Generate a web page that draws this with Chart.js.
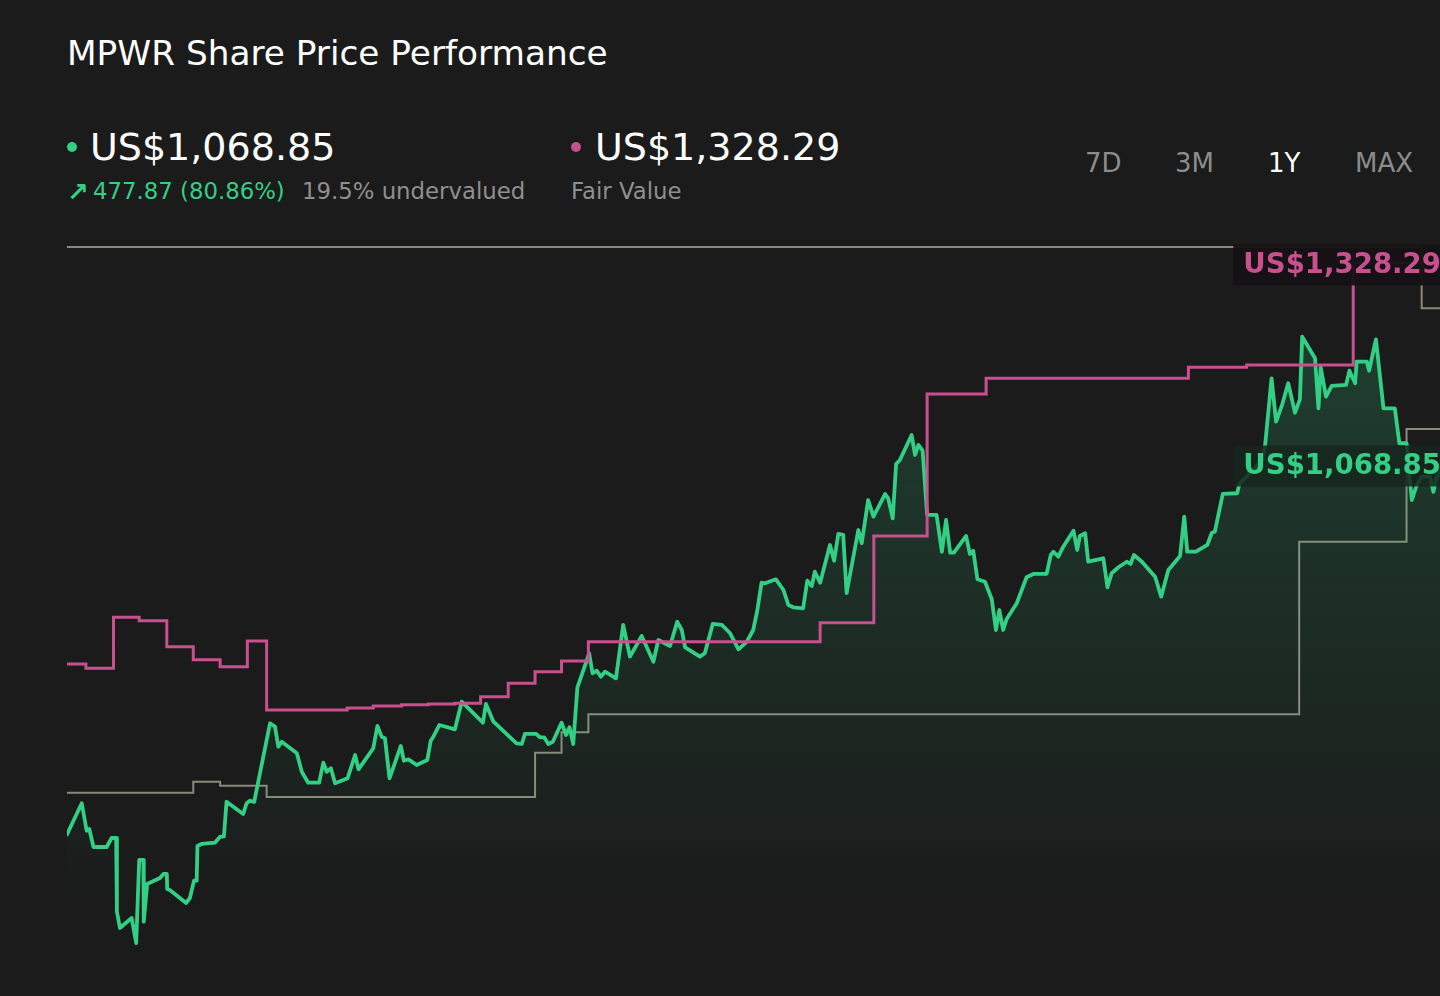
<!DOCTYPE html>
<html><head><meta charset="utf-8">
<script src="https://cdn.jsdelivr.net/npm/chart.js@4.4.1/dist/chart.umd.min.js"></script>
<style>
html,body{margin:0;padding:0;background:#1b1b1b;width:1440px;height:996px;overflow:hidden;font-family:"DejaVu Sans",sans-serif;}
.t{position:absolute;white-space:nowrap;line-height:1;}
.dot{position:absolute;width:10px;height:10px;border-radius:50%;}
#wrap{position:absolute;left:67px;top:230px;width:1380px;height:766px;}
</style></head><body>
<div class="t" style="left:67px;top:36px;font-size:34.3px;color:#ffffff">MPWR Share Price Performance</div>

<div class="dot" style="left:67px;top:142px;background:#33cf85"></div>
<div class="t" style="left:90px;top:128px;font-size:38px;color:#ffffff">US$1,068.85</div>
<div class="t" style="left:67px;top:179px;font-size:26px;font-weight:bold;color:#33cf85">&#x2197;</div>
<div class="t" style="left:93px;top:180px;font-size:22.8px;color:#33cf85">477.87 (80.86%)</div>
<div class="t" style="left:302px;top:180px;font-size:22.8px;color:#8f8f8f">19.5% undervalued</div>

<div class="dot" style="left:571px;top:142px;background:#c9508e"></div>
<div class="t" style="left:595px;top:128px;font-size:38px;color:#ffffff">US$1,328.29</div>
<div class="t" style="left:571px;top:180px;font-size:22.8px;color:#8f8f8f">Fair Value</div>

<div class="t" style="left:1085px;top:150px;font-size:26px;color:#8c8c8c">7D</div>
<div class="t" style="left:1175px;top:150px;font-size:26px;color:#8c8c8c">3M</div>
<div class="t" style="left:1268px;top:150px;font-size:26px;color:#ffffff">1Y</div>
<div class="t" style="left:1355px;top:150px;font-size:26px;color:#8c8c8c">MAX</div>

<div id="wrap"><canvas id="c"></canvas></div>
<script>
// Share price (day of the 1-year window, US$)
const priceDays = [0,3.9,5.2,5.9,7.0,10.5,11.8,13.0,13.2,14.0,
17.1,18.3,19.1,20.2,20.3,21.2,24.6,25.5,26.4,26.5,
27.2,31.5,32.5,33.6,34.3,34.5,35.6,39.1,40.5,41.5,
42.2,46.6,47.5,48.4,49.5,53.7,55.0,55.9,56.8,60.8,
62.1,63.8,66.7,67.8,68.7,69.8,70.9,74.2,76.2,77.1,
81.0,82.1,83.2,84.1,85.3,88.3,89.1,90.3,92.5,95.3,
96.2,96.9,98.5,102.6,104.4,110.0,110.8,112.8,118.9,120.3,
121.1,124.1,125.1,126.2,127.3,128.5,130.8,132.0,132.9,133.9,
135.0,137.5,138.1,139.0,140.1,141.2,142.3,145.2,147.1,148.9,
152.0,155.1,156.4,159.5,161.4,162.6,163.5,167.4,168.7,170.8,
173.2,175.4,177.6,179.8,181.5,182.6,183.7,184.6,187.5,189.5,
190.8,192.1,194.7,195.8,197.0,197.8,199.2,201.8,202.9,204.0,
205.3,206.2,209.3,210.2,211.9,213.3,216.4,217.2,218.4,219.3,
220.3,223.4,224.3,225.2,226.3,227.5,230.0,231.4,232.5,233.6,
234.6,237.8,238.8,239.7,240.8,242.8,244.6,245.7,246.6,247.6,
248.5,251.2,253.8,255.6,259.1,260.2,260.9,262.2,263.5,266.2,
267.2,267.9,269.3,270.1,274.1,275.2,276.3,278.1,280.3,281.3,
282.2,284.3,287.8,289.4,291.3,294.4,295.5,296.3,298.6,301.6,
302.8,303.6,305.7,309.5,310.1,316.1,316.9,318.6,319.8,321.3,
323.0,324.8,326.1,326.7,330.1,331.0,331.6,333.0,334.5,338.3,
339.2,340.7,341.1,343.8,344.4,346.2,348.2,351.2,352.4,354.3,
355.7,357.0,358.3,360.5,361.4,362.3,365];
const priceValues = [590.98,631.2,595.8,598.0,574.8,574.8,586.4,586.4,491.3,470.3,
483.2,450.9,558.0,558.0,478.4,527.0,534.8,540.0,540.0,520.6,
519.3,502.5,509.0,531.3,531.3,576.1,578.7,580.3,588.1,588.1,
633.2,617.4,631.2,634.5,632.8,734.4,730.0,704.2,710.6,695.7,
671.9,657.7,657.7,683.5,671.9,676.3,657.0,663.4,693.5,675.0,
702.1,730.9,717.1,715.0,663.4,705.1,686.1,687.9,680.6,687.0,
711.9,717.1,732.2,726.6,762.2,735.1,759.3,736.4,708.6,707.7,
720.6,720.6,716.3,716.3,707.7,710.6,735.1,719.3,729.2,707.7,
780.8,816.0,824.7,798.9,802.2,794.5,800.9,792.4,861.2,820.3,
847.0,813.8,841.8,834.1,865.4,854.7,832.4,820.3,824.7,862.5,
861.2,850.5,829.8,839.6,854.7,880.5,915.7,915.0,920.1,906.3,
887.0,884.0,882.7,918.3,911.5,929.9,915.7,964.4,944.1,978.6,
977.3,902.4,983.7,966.6,1022.4,1000.9,1030.2,1024.6,998.8,1068.9,
1074.0,1106.3,1080.5,1093.4,1086.0,1003.1,1003.1,955.7,996.6,954.4,
954.4,976.0,952.8,957.0,920.1,917.0,894.3,854.7,880.5,854.7,
868.5,889.2,922.7,927.0,927.0,951.5,955.7,949.3,962.2,982.8,
957.9,976.0,979.5,942.8,947.2,909.8,927.9,935.6,942.8,939.9,
951.5,942.8,923.5,897.7,932.1,950.2,1000.9,955.7,955.7,964.4,
980.2,981.5,1030.2,1031.1,1043.1,1074.0,1093.4,1179.4,1123.4,1143.7,
1173.0,1135.0,1152.3,1233.1,1205.2,1140.7,1193.6,1155.7,1169.5,1170.8,
1189.2,1173.0,1200.8,1200.8,1189.2,1229.7,1140.7,1140.7,1095.6,1095.6,
1022.4,1041.8,1052.5,1052.5,1033.1,1052.5,1068.85];

// Fair value (step changes)
const fairDays = [0,5.0,12.3,19.1,26.4,33.4,40.5,47.7,52.8,74.1,81.0,88.5,95.6,102.6,109.4,116.7,123.8,130.8,137.9,199.2,213.4,227.5,243.1,296.6,312.0,340.2,365];
const fairValues = [810.9,805.3,871.1,866.7,833.2,816.4,807.4,840.5,751.5,754.1,756.7,758.4,759.3,760.2,768.7,786.0,800.9,814.7,839.6,864.1,976.0,1159.2,1179.4,1193.6,1196.6,1328.29,1328.29];

// Grey reference steps
const upperDays = [0,358.3,365];
const upperValues = [1348.8,1269.7,1269.7];
const lowerDays = [0,33.4,40.5,52.8,123.8,130.8,137.9,325.9,354.3,365];
const lowerValues = [644.8,659.0,653.9,639.3,696.4,722.7,746.0,968.6,1114.0,1114.0];

const currentPrice = 1068.85;
const fairValue = 1328.29;
const currentLabel = 'US$1,068.85';
const fairLabel = 'US$1,328.29';

const GREEN = '#33cf85', PURPLE = '#c9508e', GREY = '#8c897a';
const pts = (xs, ys) => xs.map((x, i) => ({x: x, y: ys[i]}));

const labelPlugin = {
  id: 'endLabels',
  afterDatasetsDraw(chart) {
    const ctx = chart.ctx, ca = chart.chartArea, ys = chart.scales.y;
    const draw = (val, text, col, bg) => {
      ctx.save();
      ctx.font = 'bold 27.6px "DejaVu Sans", sans-serif';
      const w = ctx.measureText(text).width;
      const bw = w + 16, bh = 41;
      const cy = ys.getPixelForValue(val) + 2;
      const left = ca.right - bw;
      ctx.fillStyle = bg;
      ctx.fillRect(left, cy - bh / 2, bw, bh);
      ctx.fillStyle = col;
      ctx.textBaseline = 'middle';
      ctx.fillText(text, left + 10, cy + 1);
      ctx.restore();
    };
    draw(fairValue, fairLabel, PURPLE, 'rgba(21,17,20,0.95)');
    draw(currentPrice, currentLabel, GREEN, 'rgba(22,38,30,0.86)');
  }
};

new Chart(document.getElementById('c'), {
  type: 'line',
  data: {
    datasets: [
      { label: 'Fair Value', data: pts(fairDays, fairValues), borderColor: PURPLE, borderWidth: 3, stepped: 'before', pointRadius: 0, fill: false, order: 0 },
      { label: 'Share Price', data: pts(priceDays, priceValues), borderColor: GREEN, borderWidth: 3.8, borderJoinStyle: 'round', borderCapStyle: 'round', pointRadius: 0, tension: 0, order: 1,
        fill: 'start',
        backgroundColor: (c) => {
          const a = c.chart.chartArea;
          if (!a) return 'rgba(51,207,133,0.1)';
          const g = c.chart.ctx.createLinearGradient(0, a.top + 100, 0, a.top + 680);
          g.addColorStop(0, 'rgba(51,207,133,0.2)');
          g.addColorStop(1, 'rgba(51,207,133,0)');
          return g;
        } },
      { label: 'Upper', data: pts(upperDays, upperValues), borderColor: GREY, borderWidth: 2, stepped: 'before', pointRadius: 0, fill: false, order: 2 },
      { label: 'Lower', data: pts(lowerDays, lowerValues), borderColor: GREY, borderWidth: 2, stepped: 'before', pointRadius: 0, fill: false, order: 2 }
    ]
  },
  options: {
    responsive: true, maintainAspectRatio: false, animation: false,
    layout: { padding: 0 },
    plugins: { legend: { display: false }, tooltip: { enabled: false } },
    scales: {
      x: { type: 'linear', min: 0, max: 365, display: false },
      y: { min: 382.57, max: 1370.71, display: false }
    }
  },
  plugins: [labelPlugin]
});
</script>
</body></html>
